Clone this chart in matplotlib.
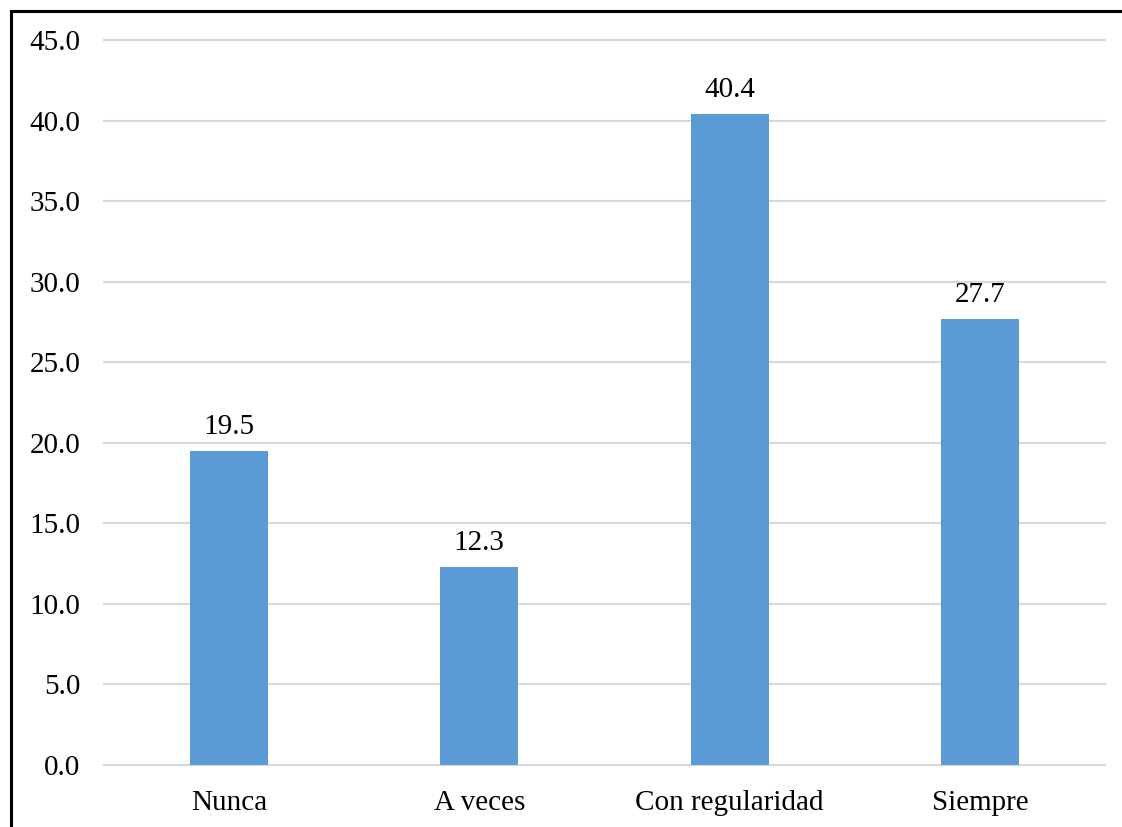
import matplotlib
matplotlib.use("Agg")
import matplotlib.pyplot as plt
from matplotlib.lines import Line2D

categories = ["Nunca", "A veces", "Con regularidad", "Siempre"]
values = [19.5, 12.3, 40.4, 27.7]
yticks = [0, 5, 10, 15, 20, 25, 30, 35, 40, 45]

plt.rcParams['font.family'] = ['Liberation Serif', 'DejaVu Serif']

fig = plt.figure(figsize=(11.22, 8.27), dpi=100)
ax = fig.add_axes([104/1122, 1-765/827, (1105-104)/1122, (765-40)/827])

x = range(len(categories))
bars = ax.bar(x, values, width=0.312, color="#5B9BD5", zorder=3)
for xi, v in zip(x, values):
    ax.annotate(f"{v:.1f}", (xi, v), xytext=(0, 8), textcoords="offset points",
                ha="center", va="bottom", fontsize=21)

ax.set_xlim(-0.5, len(categories) - 0.5)
ax.set_ylim(0, 45)
ax.set_yticks(yticks)
ax.set_yticklabels([f"{t:.1f}" for t in yticks])
ax.set_xticks(list(x))
ax.set_xticklabels(categories)
ax.tick_params(axis='both', length=0, labelsize=21)
ax.tick_params(axis='y', pad=17)
ax.tick_params(axis='x', pad=18)
ax.grid(axis='y', color="#D9D9D9", linewidth=1.5, zorder=0)
for gl in ax.get_ygridlines():
    gl.set_clip_on(False)
for s in ax.spines.values():
    s.set_visible(False)

# outer frame (left and top)
fig.add_artist(Line2D([10.5/1122, 10.5/1122], [0, 1-11/827], transform=fig.transFigure,
                      color="black", linewidth=2.2, solid_capstyle="projecting"))
fig.add_artist(Line2D([10.5/1122, 1], [1-11/827, 1-11/827], transform=fig.transFigure,
                      color="black", linewidth=2.2, solid_capstyle="projecting"))

fig.savefig("out.png", dpi=100)
